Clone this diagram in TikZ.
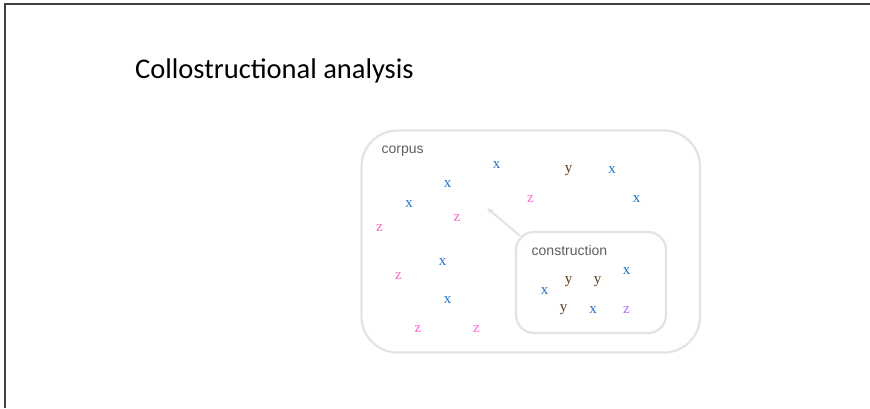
\documentclass[tikz,border=0pt]{standalone}
\usepackage{fontspec}
\setmainfont{Liberation Serif}
\setsansfont{Liberation Sans}
\newfontfamily\titlefont{Carlito}
\usepackage{xcolor}
\usetikzlibrary{positioning, arrows.meta}

\definecolor{boxgray}{HTML}{E3E3E3}
\definecolor{labelgray}{HTML}{5F5F5F}
\definecolor{xblue}{HTML}{1F6FC8}
\definecolor{ybrown}{HTML}{5A3A1C}
\definecolor{zpink}{HTML}{FF66CC}
\definecolor{zviolet}{HTML}{B36BFF}

\begin{document}
\begin{tikzpicture}[x=1pt, y=-1pt,
    container/.style={draw=boxgray, line width=2.2pt, inner sep=0pt},
    boxlabel/.style={anchor=west, font=\sffamily\fontsize{14}{14}\selectfont, text=labelgray},
    letter/.style={font=\fontsize{15}{15}\selectfont, inner sep=0pt},
    xx/.style={letter, text=xblue},
    yy/.style={letter, text=ybrown},
    zz/.style={letter, text=zpink}]
    \useasboundingbox (0,0) rectangle (870,408);
    % slide frame
    \draw[line width=1.4pt, black!75] (5,408) -- (5,4) -- (870,4);
    \node[anchor=base west, inner sep=0pt, font=\titlefont\fontsize{28.5}{30}\selectfont] (title) at (135,78.5) {Collostructional analysis};

    % corpus and construction
    \draw[container, rounded corners=36pt] (361.5,130.5) rectangle (700,352.5);
    \node[boxlabel, inner sep=0pt] (corpus) at (381.5,151) {corpus};
    \draw[container, rounded corners=18pt, fill=white] (516,232) rectangle (666,333);
    \coordinate (cxn) at (519.5,235.5);
    \node[boxlabel, inner sep=0pt] (construction) at (531.5,250) {construction};
    \coordinate (target) at (487,208);
    \draw[-{Stealth[length=7pt, width=6pt]}, draw=boxgray, line width=2pt] (cxn) -- (target);

    % letters in the corpus
    \node[xx] (x1) at (496.5,165) {x};
    \node[xx] (x2) at (447.5,184.5) {x};
    \node[xx] (x3) at (409,204.5) {x};
    \node[xx] (x4) at (442.5,262) {x};
    \node[xx] (x5) at (447.5,300) {x};
    \node[xx] (x6) at (612,170) {x};
    \node[xx] (x7) at (636.5,199) {x};
    \node[yy] (y1) at (568.5,170.5) {y};
    \node[zz] (z1) at (530.5,199.5) {z};
    \node[zz] (z2) at (457,218.5) {z};
    \node[zz] (z3) at (379.5,228.5) {z};
    \node[zz] (z4) at (398.5,276.5) {z};
    \node[zz] (z5) at (418,329.5) {z};
    \node[zz] (z6) at (476.5,329.5) {z};

    % letters in the construction
    \node[xx] (cx1) at (626.5,271) {x};
    \node[xx] (cx2) at (544.5,291) {x};
    \node[xx] (cx3) at (593,310.5) {x};
    \node[yy] (cy1) at (568.5,281.5) {y};
    \node[yy] (cy2) at (597.5,281.5) {y};
    \node[yy] (cy3) at (563.5,310) {y};
    \node[letter, text=zviolet] (cz1) at (626.5,310.5) {z};
\end{tikzpicture}
\end{document}
